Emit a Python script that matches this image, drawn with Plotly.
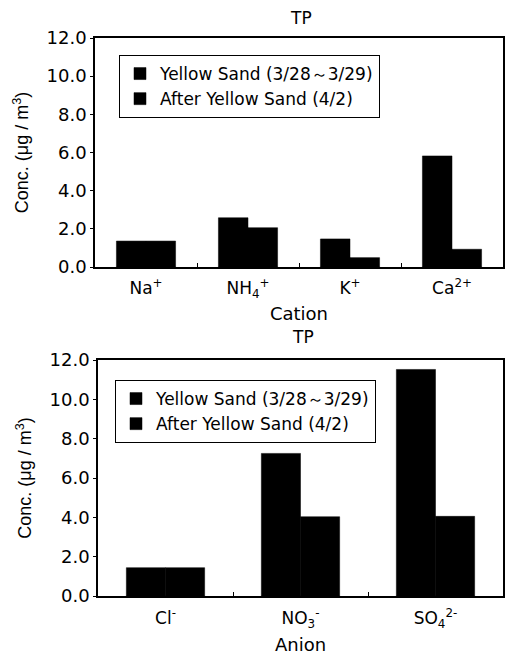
import plotly.graph_objects as go

cations = ["Na<sup>+</sup>", "NH<sub>4</sub><sup>+</sup>", "K<sup>+</sup>", "Ca<sup>2+</sup>"]
cation_ys = [1.36, 2.58, 1.47, 5.82]
cation_after = [1.36, 2.06, 0.49, 0.93]

anions = ["Cl<sup>-</sup>", "NO<sub>3</sub><sup>-</sup>", "SO<sub>4</sub><sup>2-</sup>"]
anion_ys = [1.44, 7.25, 11.52]
anion_after = [1.44, 4.03, 4.05]

name_ys = "Yellow Sand (3/28～3/29)"
name_after = "After Yellow Sand (4/2)"
y_ticks = [0, 2, 4, 6, 8, 10, 12]
y_ticklabels = ["0.0", "2.0", "4.0", "6.0", "8.0", "10.0", "12.0"]

W, H = 511, 657
FONT = "DejaVu Sans"
YFONT = "Liberation Sans"

fig = go.Figure()

bar_style = dict(marker=dict(color="black", line=dict(color="black", width=0.5)))

fig.add_trace(go.Bar(x=cations, y=cation_ys, name=name_ys, xaxis="x", yaxis="y",
                     legend="legend", **bar_style))
fig.add_trace(go.Bar(x=cations, y=cation_after, name=name_after, xaxis="x", yaxis="y",
                     legend="legend", **bar_style))
fig.add_trace(go.Bar(x=anions, y=anion_ys, name=name_ys, xaxis="x2", yaxis="y2",
                     legend="legend2", **bar_style))
fig.add_trace(go.Bar(x=anions, y=anion_after, name=name_after, xaxis="x2", yaxis="y2",
                     legend="legend2", **bar_style))

def px_x(p):
    return p / W

def px_y(p):
    return 1 - p / H

axis_common = dict(showline=True, linecolor="black", linewidth=1.5, mirror=True,
                   showgrid=False, zeroline=False, automargin=False)

ytitle = "Conc. (μg / m<sup>3</sup>)"
tickf = dict(family=FONT, size=18, color="black")
xtick_style = dict(ticks="inside", tickson="boundaries", ticklen=4, tickcolor="black")

fig.update_layout(
    width=W, height=H,
    margin=dict(l=0, r=0, t=0, b=0),
    paper_bgcolor="white", plot_bgcolor="white",
    barmode="group", bargap=0.42, bargroupgap=0,
    font=dict(family=FONT, color="black"),
    xaxis=dict(domain=[px_x(95), px_x(503)], anchor="y", ticklabelstandoff=5,
               **xtick_style, **axis_common,
               tickfont=dict(family=FONT, size=17, color="black"),
               title=dict(text="Cation", font=dict(size=18, family=FONT), standoff=8)),
    yaxis=dict(domain=[px_y(267), px_y(38)], anchor="x", range=[0, 12],
               tickvals=y_ticks, ticktext=y_ticklabels, ticks="outside", ticklen=3,
               tickcolor="black", tickfont=tickf,
               title=dict(text=ytitle, font=dict(size=18, family=YFONT), standoff=13),
               **axis_common),
    xaxis2=dict(domain=[px_x(98), px_x(503)], anchor="y2", ticklabelstandoff=6,
                **xtick_style, **axis_common,
                tickfont=dict(family=FONT, size=17, color="black"),
                title=dict(text="Anion", font=dict(size=18, family=FONT), standoff=9)),
    yaxis2=dict(domain=[px_y(596), px_y(360)], anchor="x2", range=[0, 12],
                tickvals=y_ticks, ticktext=y_ticklabels, ticks="outside", ticklen=3,
                tickcolor="black", tickfont=tickf,
                title=dict(text=ytitle, font=dict(size=18, family=YFONT), standoff=13),
                **axis_common),
    legend=dict(x=px_x(119), y=px_y(55), xanchor="left", yanchor="top",
                bordercolor="black", borderwidth=1, bgcolor="white",
                font=dict(family=FONT, size=17, color="black"), itemwidth=30),
    legend2=dict(x=px_x(115), y=px_y(380), xanchor="left", yanchor="top",
                 bordercolor="black", borderwidth=1, bgcolor="white",
                 font=dict(family=FONT, size=17, color="black"), itemwidth=30),
    annotations=[
        dict(text="TP", x=px_x(301), y=px_y(18), xref="paper", yref="paper",
             xanchor="center", yanchor="middle",
             showarrow=False, font=dict(family=FONT, size=17, color="black")),
        dict(text="TP", x=px_x(303), y=px_y(337), xref="paper", yref="paper",
             xanchor="center", yanchor="middle",
             showarrow=False, font=dict(family=FONT, size=17, color="black")),
    ],
)

fig.write_html("out.html")
